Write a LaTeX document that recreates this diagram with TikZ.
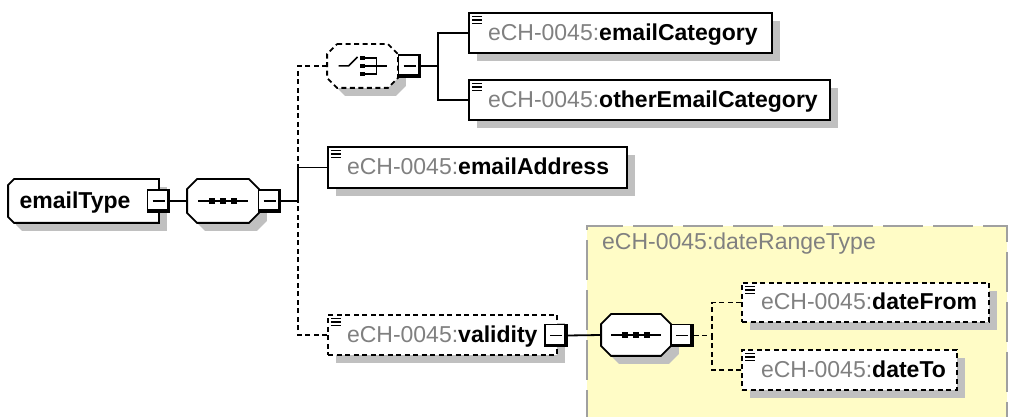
\documentclass[tikz,border=0pt]{standalone}
\usepackage{fontspec}
\setmainfont{Liberation Sans}
\usetikzlibrary{shadows}
\pgfdeclarelayer{bg}
\pgfsetlayers{bg,main}
\definecolor{pfx}{RGB}{128,128,128}
\definecolor{shgray}{RGB}{192,192,192}
\definecolor{ylw}{RGB}{255,252,198}
\definecolor{ybord}{RGB}{160,160,160}
% octagon (all four corners cut) around a named node
\newcommand\octpath[3]{\path[#3] ([xshift=#2]#1.north west) -- ([xshift=-#2]#1.north east) -- ([yshift=-#2]#1.north east) -- ([yshift=#2]#1.south east) -- ([xshift=-#2]#1.south east) -- ([xshift=#2]#1.south west) -- ([yshift=#2]#1.south west) -- ([yshift=-#2]#1.north west) -- cycle;}
% left corners cut only
\newcommand\leftcutpath[3]{\path[#3] ([xshift=#2]#1.north west) -- (#1.north east) -- (#1.south east) -- ([xshift=#2]#1.south west) -- ([yshift=#2]#1.south west) -- ([yshift=-#2]#1.north west) -- cycle;}
\newcommand\seqicon[1]{\begin{scope}[shift={(#1.center)}]
  \draw[line width=1.5pt] (-25pt,0pt) -- (25pt,0pt);
  \foreach \dx in {-11,0,11} {\fill (\dx pt-2.6pt,-2.6pt) rectangle (\dx pt+2.6pt,2.6pt);}
  \end{scope}}
\newcommand\choiceicon[1]{\begin{scope}[shift={(#1.center)}]
  \draw[line width=1.5pt] (-24pt,0pt) -- (-14pt,0pt) -- (-5pt,9pt);
  \foreach \dy in {-8,0,8} {\fill (-2.4pt,\dy pt-2.4pt) rectangle (2.4pt,\dy pt+2.4pt);}
  \draw[line width=1.5pt] (0pt,8pt) -- (14pt,8pt) -- (14pt,-8pt) -- (0pt,-8pt) (0pt,0pt) -- (24pt,0pt);
  \end{scope}}
\newcommand\elemicon[1]{\begin{scope}[shift={(#1.north west)}]
  \draw[solid,line width=1.2pt] (4pt,-4.5pt) -- (14pt,-4.5pt) (4pt,-8pt) -- (14pt,-8pt) (4pt,-11.5pt) -- (14pt,-11.5pt);
  \end{scope}}
\begin{document}
\begin{tikzpicture}[x=1pt,y=1pt, line width=1.8pt,
  every node/.style={font=\fontsize{23}{27}\selectfont, inner sep=0pt},
  dsh/.style={dash pattern=on 5pt off 3.5pt},
  shad/.style={drop shadow={shadow xshift=8pt,shadow yshift=-8pt,fill=shgray,opacity=1,draw=none}},
  shadowfill/.style={fill=shgray, transform canvas={shift={(8pt,-8pt)}}},
  shapeline/.style={draw=black, fill=white, line width=1.8pt},
  elembox/.style={rectangle, draw, fill=white, shad, line width=1.8pt, minimum height=40pt,
    inner xsep=19pt, inner ysep=0pt, align=left, text height=15pt, text depth=0pt},
  minusbox/.style={rectangle, draw, solid, fill=white, line width=1.4pt, minimum size=22pt, inner sep=0pt,
    path picture={
      \draw[line width=5.5pt] (path picture bounding box.north east) -- (path picture bounding box.south east) -- (path picture bounding box.south west);
      \draw[line width=1.5pt] ([xshift=5pt]path picture bounding box.west) -- ([xshift=-5pt]path picture bounding box.east);}},
  octo/.style={rectangle, minimum width=70pt, minimum height=42pt},
  etnode/.style={rectangle, minimum width=149pt, minimum height=42pt, text height=15pt, text depth=0pt},
  typelabel/.style={text=pfx, anchor=west},
  conn/.style={draw=black, line width=1.8pt}
]
\useasboundingbox (0,0) rectangle (1014,417);

% nodes
\node[etnode] (et) at (83.5,216) {\textbf{emailType}\hspace*{17pt}};
\node[minusbox] (etm) at (158.5,216) {};
\node[octo] (seq1) at (223,216) {};
\node[minusbox] (seq1m) at (269.5,216) {};
\coordinate (t0) at (298,216);

\node[octo, minimum width=69pt] (ch) at (362.5,351) {};
\node[minusbox] (chm) at (409.5,351) {};
\coordinate (c0) at (438,351);

\node[elembox, text width=265pt] (cat) at (620.5,384) {\mbox{\textcolor{pfx}{eCH-0045:}\textbf{emailCategory}}};
\node[elembox, text width=323pt] (oth) at (649.5,317) {\mbox{\textcolor{pfx}{eCH-0045:}\textbf{otherEmailCategory}}};
\node[elembox, text width=261pt, minimum height=41pt] (addr) at (477.5,249.5) {\mbox{\textcolor{pfx}{eCH-0045:}\textbf{emailAddress}}};
\node[elembox, dsh, text width=191pt] (val) at (442.5,82) {\mbox{\textcolor{pfx}{eCH-0045:}\textbf{validity}}};
\node[minusbox] (valm) at (556,81.5) {};

\node[octo, minimum width=68pt, minimum height=40pt] (seq2) at (636,82) {};
\node[minusbox] (seq2m) at (682,81.5) {};
\coordinate (d0) at (712,81.5);

\node[elembox, dsh, text width=209pt, minimum height=39pt] (from) at (865.5,114.5) {\mbox{\textcolor{pfx}{eCH-0045:}\textbf{dateFrom}}};
\node[elembox, dsh, text width=177pt] (to) at (849.5,47) {\mbox{\textcolor{pfx}{eCH-0045:}\textbf{dateTo}}};

% background: complex type area and compositor / root shapes
\begin{pgfonlayer}{bg}
\fill[ylw] (587,-13) rectangle (1007,191);
\draw[ybord, line width=1.6pt, dash pattern=on 40pt off 10pt] (587,-13) -- (587,191) -- (1007,191) -- (1007,-13);
\leftcutpath{et}{6pt}{shadowfill}
\leftcutpath{et}{6pt}{shapeline}
\octpath{seq1}{10pt}{shadowfill}
\octpath{seq1}{10pt}{shapeline}
\octpath{ch}{10pt}{shadowfill}
\octpath{ch}{10pt}{shapeline, dsh}
\octpath{seq2}{10pt}{shadowfill}
\octpath{seq2}{10pt}{shapeline}
\end{pgfonlayer}
\node[typelabel] (drt) at (602,173) {eCH-0045:dateRangeType};

\seqicon{seq1}
\seqicon{seq2}
\choiceicon{ch}
\foreach \n in {cat,oth,addr,val,from,to} {\elemicon{\n}}

% connectors
\draw[conn, dsh] (ch.west) -| (t0);
\draw[conn, dsh] (val.west) -| (t0);
\draw[conn] (addr.west) -| (t0);
\draw[conn] (seq1m.east) -- (t0);
\draw[conn] (etm.east) -- (seq1.west);
\draw[conn] (chm.east) -- (c0);
\draw[conn] (cat.west) -| (c0);
\draw[conn] (oth.west) -| (c0);
\draw[conn] (valm.east) -- (seq2.west);
\draw[conn, dsh] (seq2m.east) -- (d0);
\draw[conn, dsh] (from.west) -| (d0);
\draw[conn, dsh] (to.west) -| (d0);
\end{tikzpicture}
\end{document}
